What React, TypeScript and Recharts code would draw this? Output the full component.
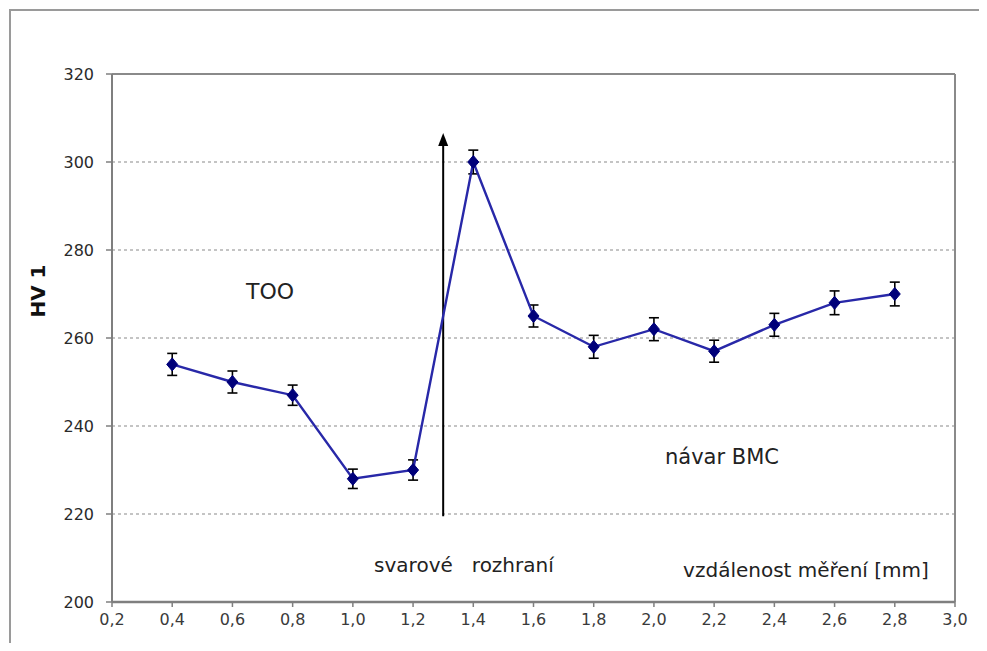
import React from 'react';
import {
  LineChart,
  Line,
  XAxis,
  YAxis,
  CartesianGrid,
  ErrorBar,
  ReferenceLine,
  ReferenceDot,
} from 'recharts';

const distances = [0.4, 0.6, 0.8, 1.0, 1.2, 1.4, 1.6, 1.8, 2.0, 2.2, 2.4, 2.6, 2.8];
const hardness = [254, 250, 247, 228, 230, 300, 265, 258, 262, 257, 263, 268, 270];
const hardnessErr = [2.5, 2.5, 2.3, 2.2, 2.3, 2.7, 2.5, 2.6, 2.6, 2.5, 2.6, 2.7, 2.7];

const xTicks = [0.2, 0.4, 0.6, 0.8, 1.0, 1.2, 1.4, 1.6, 1.8, 2.0, 2.2, 2.4, 2.6, 2.8, 3.0];
const yTicks = [200, 220, 240, 260, 280, 300, 320];
const yMinorTicks = [210, 230, 250, 270, 290, 310];

const interfaceX = 1.3;
const arrowFrom = 219.5;
const arrowTo = 306.6;

const annotations = [
  { x: 0.725, y: 270.5, text: 'TOO', size: 22 },
  { x: 2.226, y: 233.0, text: 'návar BMC', size: 21 },
  { x: 1.369, y: 208.4, text: 'svarové\u00a0\u00a0 rozhraní', size: 20 },
  { x: 2.505, y: 207.3, text: 'vzdálenost měření [mm]', size: 20 },
];

const data = distances.map((d, i) => ({ x: d, hv: hardness[i], err: hardnessErr[i] }));

const FONT = '"DejaVu Sans", "Liberation Sans", Arial, sans-serif';

const Diamond = (props: any) => {
  const { cx, cy, index } = props;
  if (cx == null || cy == null) return <g key={`d-${index}`} />;
  return (
    <path
      key={`d-${index}`}
      d={`M${cx},${cy - 6.5} L${cx + 5.5},${cy} L${cx},${cy + 6.5} L${cx - 5.5},${cy} Z`}
      fill="#00007a"
      stroke="#00007a"
      strokeWidth={1}
    />
  );
};

const ArrowHead = (props: any) => {
  const { cx, cy } = props;
  return <path d={`M${cx},${cy} L${cx + 5},${cy + 13} L${cx - 5},${cy + 13} Z`} fill="#000" />;
};

const fmt = (v: number) => v.toFixed(1).replace('.', ',');

export default function App() {
  return (
    <div style={{ position: 'relative', width: 971, height: 635, overflow: 'hidden', background: '#fff' }}>
      <div
        style={{
          position: 'absolute',
          left: 1,
          top: 1,
          width: 1000,
          height: 700,
          borderLeft: '2px solid #9a9a9a',
          borderTop: '2px solid #9a9a9a',
        }}
      />
      <div style={{ position: 'absolute', left: 0, top: 0 }}>
        <LineChart width={971} height={635} data={data} margin={{ top: 66, right: 24, left: 44, bottom: 11 }}>
          <CartesianGrid vertical={false} stroke="#8a8a8a" strokeDasharray="3 3" strokeWidth={1.2} />
          <YAxis
            yAxisId="minor"
            type="number"
            domain={[200, 320]}
            ticks={yMinorTicks}
            width={0}
            mirror
            axisLine={false}
            tickSize={4}
            tickLine={{ stroke: '#7f7f7f', strokeWidth: 1.5 }}
            tickFormatter={() => ''}
          />
          <YAxis
            type="number"
            domain={[200, 320]}
            ticks={yTicks}
            interval={0}
            width={60}
            tickSize={6}
            tickMargin={12}
            axisLine={{ stroke: '#7f7f7f', strokeWidth: 2 }}
            tickLine={{ stroke: '#7f7f7f', strokeWidth: 1.5 }}
            tick={{ fill: '#2a2a2a', fontSize: 16, fontFamily: FONT }}
            label={{
              content: (p: any) => {
                const vb = p.viewBox || {};
                const cx = vb.x - 14.5;
                const cy = vb.y + vb.height / 2 - 47;
                return (
                  <text
                    x={cx}
                    y={cy}
                    transform={`rotate(-90, ${cx}, ${cy})`}
                    textAnchor="middle"
                    dominantBaseline="central"
                    fontFamily={FONT}
                    fontWeight="bold"
                    fontSize={20}
                    fill="#111"
                  >
                    HV 1
                  </text>
                );
              },
            }}
          />
          <XAxis
            dataKey="x"
            type="number"
            domain={[0.2, 3.0]}
            ticks={xTicks}
            interval={0}
            height={30}
            tickSize={5}
            tickMargin={7}
            tickFormatter={fmt}
            axisLine={{ stroke: '#7f7f7f', strokeWidth: 2.5 }}
            tickLine={{ stroke: '#7f7f7f', strokeWidth: 1.5 }}
            tick={{ fill: '#3a3a3a', fontSize: 16, fontFamily: FONT }}
          />
          <ReferenceLine y={320} stroke="#8a8a8a" strokeWidth={2} />
          <ReferenceLine x={3.0} stroke="#8a8a8a" strokeWidth={2} />
          <ReferenceLine
            segment={[
              { x: interfaceX, y: arrowFrom },
              { x: interfaceX, y: arrowTo - 2 },
            ]}
            stroke="#000"
            strokeWidth={2}
          />
          <ReferenceDot x={interfaceX} y={arrowTo} r={6} shape={ArrowHead} />
          {annotations.map((a) => (
            <ReferenceDot
              key={a.text}
              x={a.x}
              y={a.y}
              r={0}
              fill="none"
              stroke="none"
              label={{
                content: (p: any) => {
                  const vb = p.viewBox || {};
                  const cx = (vb.x ?? 0) + (vb.width ?? 0) / 2;
                  const cy = (vb.y ?? 0) + (vb.height ?? 0) / 2;
                  return (
                    <text
                      x={cx}
                      y={cy}
                      textAnchor="middle"
                      dominantBaseline="central"
                      fontFamily={FONT}
                      fontSize={a.size}
                      fill="#222"
                    >
                      {a.text}
                    </text>
                  );
                },
              }}
            />
          ))}
          <Line
            dataKey="hv"
            stroke="#2828a8"
            strokeWidth={2.4}
            dot={Diamond}
            activeDot={false}
            isAnimationActive={false}
          >
            <ErrorBar dataKey="err" direction="y" width={5} stroke="#000" strokeWidth={1.6} />
          </Line>
        </LineChart>
      </div>
    </div>
  );
}
